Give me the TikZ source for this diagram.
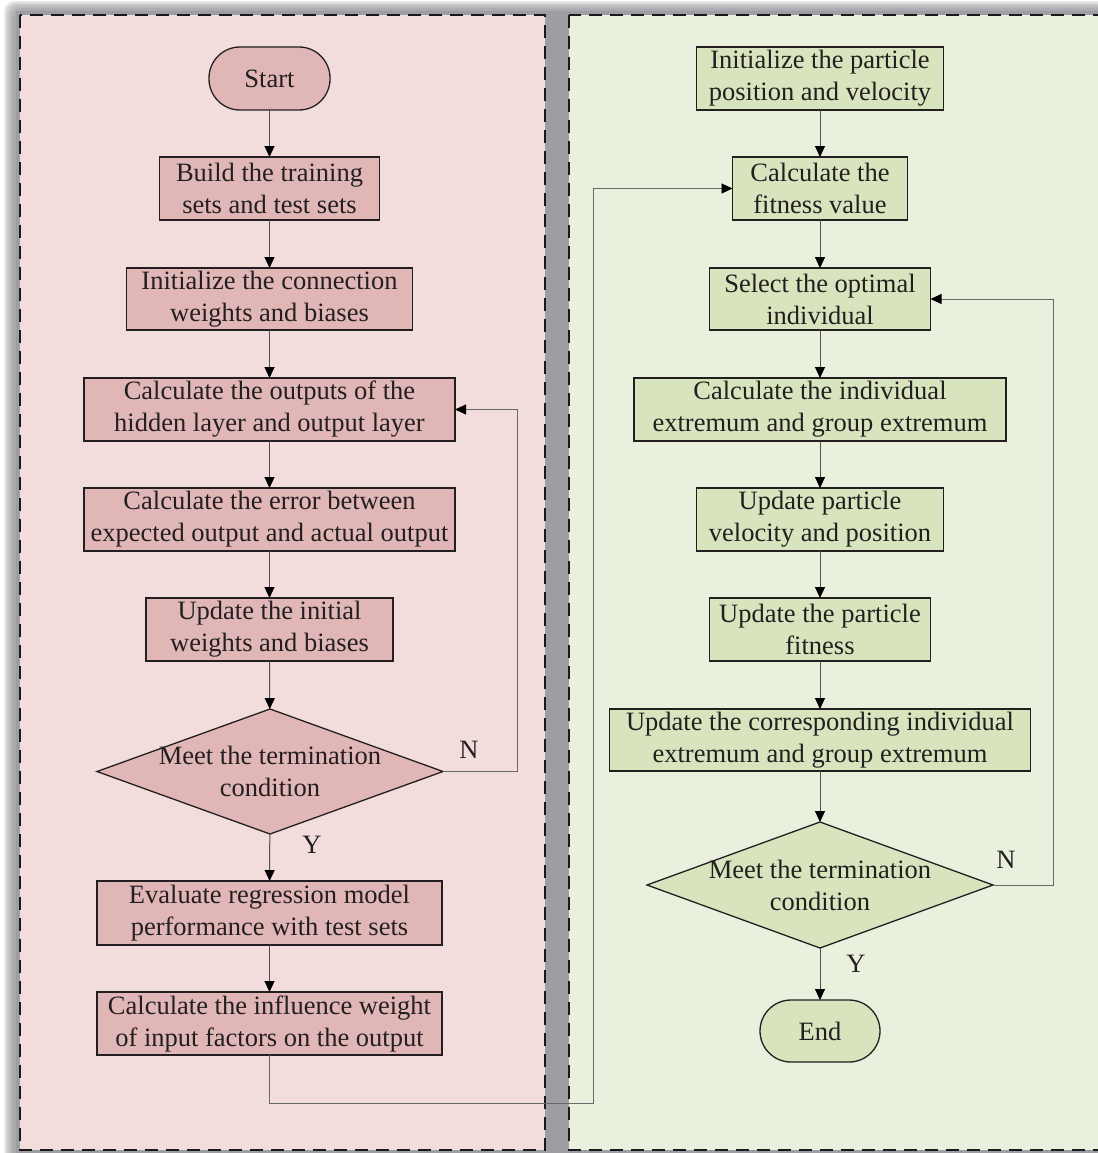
\documentclass[tikz,border=0pt]{standalone}
\usepackage{fontspec}
\setmainfont{Liberation Serif}
\usetikzlibrary{shapes.geometric,arrows.meta}

\definecolor{shadowc}{RGB}{140,140,146}
\definecolor{lpanel}{RGB}{242,221,220}
\definecolor{gpanel}{RGB}{234,240,222}
\definecolor{lfill}{RGB}{224,183,182}
\definecolor{gfill}{RGB}{215,228,189}
\definecolor{txt}{RGB}{35,31,32}
\definecolor{linec}{RGB}{80,80,80}
\definecolor{loopc}{RGB}{105,105,105}

\tikzset{
  txtfont/.style={font=\fontsize{26.5}{32}\selectfont, text=txt},
  box/.style={draw=txt, line width=1.3pt, inner sep=0pt, outer sep=0pt, align=center, txtfont},
  lbox/.style={box, fill=lfill},
  gbox/.style={box, fill=gfill},
  terminal/.style={box, rounded corners=31pt},
  decision/.style={diamond, draw=txt, line width=1.3pt, inner sep=0pt, outer sep=0pt},
  panel/.style={draw=black!90, line width=2.2pt, dash pattern=on 13pt off 8pt},
  tip/.style={-{Triangle[length=11pt,width=10pt,black]}},
  arr/.style={draw=linec, line width=1pt, tip},
  looparr/.style={draw=loopc, line width=0.9pt, tip},
  yn/.style={txtfont, inner sep=0pt}
}

\begin{document}
\begin{tikzpicture}[x=1pt,y=-1pt]
  % page
  \fill[white] (0,0) rectangle (1097,1153);
  \useasboundingbox (0,0) rectangle (1097,1153);

  % soft grey frame behind the two panels
  \foreach \k in {0,...,6}
    \fill[shadowc, opacity=0.17, rounded corners=10pt]
      (4+\k*1.6, 1+\k*1.4) rectangle (1130,1180);
  \fill[shadowc!85!white] (16,11) rectangle (1130,1180);

  % panels
  \fill[lpanel] (20,15) rectangle (545,1150);
  \fill[gpanel] (569,15) rectangle (1120,1150);
  \draw[panel] (20,15) rectangle (545,1150);
  \draw[panel] (569,15) rectangle (1120,1150);

  % ---------- left flow: network training ----------
  \node[terminal, fill=lfill, minimum width=121pt, minimum height=63pt] (start) at (269.5,78.5) {Start};
  \node[lbox, minimum width=220pt, minimum height=63pt] (build) at (269.5,188.5) {Build the training\\sets and test sets};
  \node[lbox, minimum width=286pt, minimum height=62pt] (init) at (269.5,299) {Initialize the connection\\weights and biases};
  \node[lbox, minimum width=371pt, minimum height=63pt] (outp) at (269.5,409.5) {Calculate the outputs of the\\hidden layer and output layer};
  \node[lbox, minimum width=371pt, minimum height=63pt] (err) at (269.5,519.5) {Calculate the error between\\expected output and actual output};
  \node[lbox, minimum width=247pt, minimum height=63pt] (upd) at (269.5,629.5) {Update the initial\\weights and biases};
  \node[decision, fill=lfill, minimum width=346pt, minimum height=125pt] (dl) at (270,771.5) {};
  \node[txtfont, align=center, inner sep=0pt] (dltxt) at (dl.center) {Meet the termination\\condition};
  \node[lbox, minimum width=345pt, minimum height=64pt] (eval) at (269.5,913) {Evaluate regression model\\performance with test sets};
  \node[lbox, minimum width=345pt, minimum height=63pt] (infl) at (269.5,1023.5) {Calculate the influence weight\\of input factors on the output};

  \draw[arr] (start) -- (build);
  \draw[arr] (build) -- (init);
  \draw[arr] (init) -- (outp);
  \draw[arr] (outp) -- (err);
  \draw[arr] (err) -- (upd);
  \draw[arr] (upd) -- (dl);
  \draw[arr] (dl) -- (eval);
  \draw[arr] (eval) -- (infl);
  \draw[looparr] (dl.east) -- ++(74,0) |- (outp.east);
  \node[yn] (nl) at (469,750) {N};
  \node[yn] (yl) at (312,845) {Y};

  % ---------- right flow: particle swarm ----------
  \node[gbox, minimum width=247pt, minimum height=63pt] (pinit) at (820,78.5) {Initialize the particle\\position and velocity};
  \node[gbox, minimum width=175pt, minimum height=63pt] (fit) at (820,188.5) {Calculate the\\fitness value};
  \node[gbox, minimum width=221pt, minimum height=62pt] (sel) at (820,299) {Select the optimal\\individual};
  \node[gbox, minimum width=372pt, minimum height=63pt] (ext) at (820,409.5) {Calculate the individual\\extremum and group extremum};
  \node[gbox, minimum width=247pt, minimum height=63pt] (vel) at (820,519.5) {Update particle\\velocity and position};
  \node[gbox, minimum width=221pt, minimum height=63pt] (pfit) at (820,629.5) {Update the particle\\fitness};
  \node[gbox, minimum width=421pt, minimum height=62pt] (corr) at (820,740) {Update the corresponding individual\\extremum and group extremum};
  \node[decision, fill=gfill, minimum width=346pt, minimum height=126pt] (dr) at (820,885) {};
  \node[txtfont, align=center, inner sep=0pt] (drtxt) at (dr.center) {Meet the termination\\condition};
  \node[terminal, fill=gfill, minimum width=120pt, minimum height=62pt] (fin) at (820,1031) {End};

  \draw[arr] (pinit) -- (fit);
  \draw[arr] (fit) -- (sel);
  \draw[arr] (sel) -- (ext);
  \draw[arr] (ext) -- (vel);
  \draw[arr] (vel) -- (pfit);
  \draw[arr] (pfit) -- (corr);
  \draw[arr] (corr) -- (dr);
  \draw[arr] (dr) -- (fin);
  \draw[looparr] (dr.east) -- ++(60,0) |- (sel.east);
  \node[yn] (nr) at (1006,860) {N};
  \node[yn] (yr) at (856,964) {Y};

  % hand-over from the network branch to the swarm branch
  \coordinate (bend) at (593,1103);
  \draw[looparr] (infl.south) |- (bend) |- (fit.west);
\end{tikzpicture}
\end{document}
